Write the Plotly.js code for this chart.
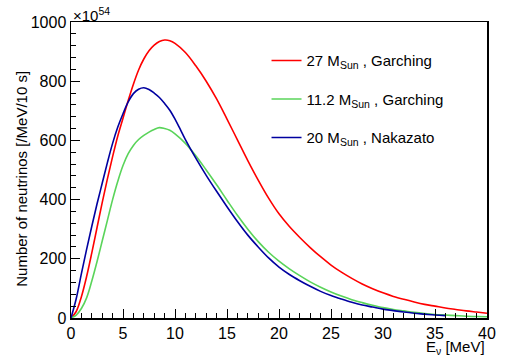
<!DOCTYPE html>
<html>
<head>
<meta charset="utf-8">
<script src="https://cdn.plot.ly/plotly-3.0.1.min.js"></script>
<style>html,body{margin:0;padding:0;background:#fff;}#chart{width:509px;height:359px;}</style>
</head>
<body>
<div id="chart"></div>
<script>
// Energies (MeV)
const energyRed = [0,0.5,1,1.5,2,2.5,3,3.5,4,4.5,5,5.5,6,6.5,7,7.5,8,8.5,9,9.5,10,11,12,13,14,15,16,17,18,19,20,21,22,23,24,25,26,27,28,29,30,31,32,33,34,35,36,37,38,39,40];
const red27Garching = [0,22,72,140,220,305,390,470,545,615,675,735,790,838,875,903,922,934,939,937,928,897,852,800,740,672,602,532,466,405,352,309,272,238,207,179,155,134,115,99,85,73,63,54,46,40,34,29,24,20,16];

const energyGreen = [0,0.5,1,1.5,2,2.5,3,3.5,4,4.5,5,5.5,6,6.5,7,7.5,8,8.5,9,9.5,10,11,12,13,14,15,16,17,18,19,20,21,22,23,24,25,26,27,28,29,30,31,32,33,34,35,36,37,38,39,40];
const green112Garching = [0,10,32,68,125,190,260,330,400,462,515,555,583,603,617,628,637,643,640,634,622,590,548,500,450,398,347,300,258,222,192,166,143,122,104,88,74,62,52,43,35,29,24,19,15,12,10,8,6,5,4];

const energyBlue = [0,0.5,1,1.5,2,2.5,3,3.5,4,4.5,5,5.5,6,6.5,7,7.5,8,8.5,9,9.5,10,10.5,11,12,13,14,15,16,17,18,19,20,21,22,23,24,25,26,27,28,29,30,31,32,33,34,35,36];
const blue20Nakazato = [0,65,150,232,310,385,455,525,590,645,690,730,758,773,778,772,760,745,725,702,672,638,603,540,482,428,376,326,280,240,203,172,147,126,107,90,76,64,53,44,37,30,25,20,16,13,10,8];

const legendNames = ['27 M<sub>Sun</sub> , Garching','11.2 M<sub>Sun</sub> , Garching','20 M<sub>Sun</sub> , Nakazato'];
const xTitle = 'E<sub>ν</sub> [MeV]';
const yTitle = 'Number of neutrinos [/MeV/10 s]';
const expLabel = '×10<sup>54</sup>';

const FONT = 'Liberation Sans, Arial, Helvetica, sans-serif';

const traces = [
  {x: energyRed, y: red27Garching, name: legendNames[0], legendgroup:'a', mode:'lines', line:{color:'#ff0000', width:1.6, shape:'spline', smoothing:1}},
  {x: energyGreen, y: green112Garching, name: legendNames[1], legendgroup:'b', mode:'lines', line:{color:'#5ad45a', width:1.6, shape:'spline', smoothing:1}},
  {x: energyBlue, y: blue20Nakazato, name: legendNames[2], legendgroup:'c', mode:'lines', line:{color:'#0000a0', width:1.6, shape:'spline', smoothing:1}}
];

const layout = {
  width: 509, height: 359,
  margin: {l: 70.5, r: 22, t: 22, b: 41, pad: 0},
  paper_bgcolor: '#fff', plot_bgcolor: '#fff',
  font: {family: FONT, size: 15, color: '#000'},
  showlegend: true,
  legend: {x: 0.47, y: 0.925, xanchor: 'left', yanchor: 'top', bgcolor: 'rgba(0,0,0,0)', borderwidth: 0,
           font: {family: FONT, size: 15}, tracegroupgap: 16, itemwidth: 30},
  xaxis: {range: [0, 40], showgrid: false, zeroline: false, showline: true, linecolor: '#000', linewidth: 1.5, mirror: true,
          ticks: 'inside', ticklen: 9, tickwidth: 1, tickcolor: '#000', dtick: 5, tick0: 0,
          minor: {dtick: 1, ticks: 'inside', ticklen: 5, tickcolor: '#000', tickwidth: 1},
          tickfont: {family: FONT, size: 16}, fixedrange: true},
  yaxis: {range: [0, 1000], showgrid: false, zeroline: false, showline: true, linecolor: '#000', linewidth: 1.5, mirror: true,
          ticks: 'inside', ticklen: 9, tickwidth: 1, tickcolor: '#000', dtick: 200, tick0: 0,
          minor: {dtick: 40, ticks: 'inside', ticklen: 5, tickcolor: '#000', tickwidth: 1},
          tickfont: {family: FONT, size: 16}, fixedrange: true},
  annotations: [
    {xref: 'paper', yref: 'paper', x: 1, y: -0.137, xanchor: 'right', yanchor: 'bottom', text: xTitle, showarrow: false, font: {family: FONT, size: 15}},
    {xref: 'paper', yref: 'paper', x: -0.118, y: 0.47, xanchor: 'center', yanchor: 'middle', textangle: -90, text: yTitle, showarrow: false, font: {family: FONT, size: 15}},
    {xref: 'paper', yref: 'paper', x: 0, y: 1, xanchor: 'left', yanchor: 'bottom', yshift: -4, text: expLabel, showarrow: false, font: {family: FONT, size: 15}}
  ]
};

Plotly.newPlot('chart', traces, layout, {displayModeBar: false, staticPlot: true});
</script>
</body>
</html>
